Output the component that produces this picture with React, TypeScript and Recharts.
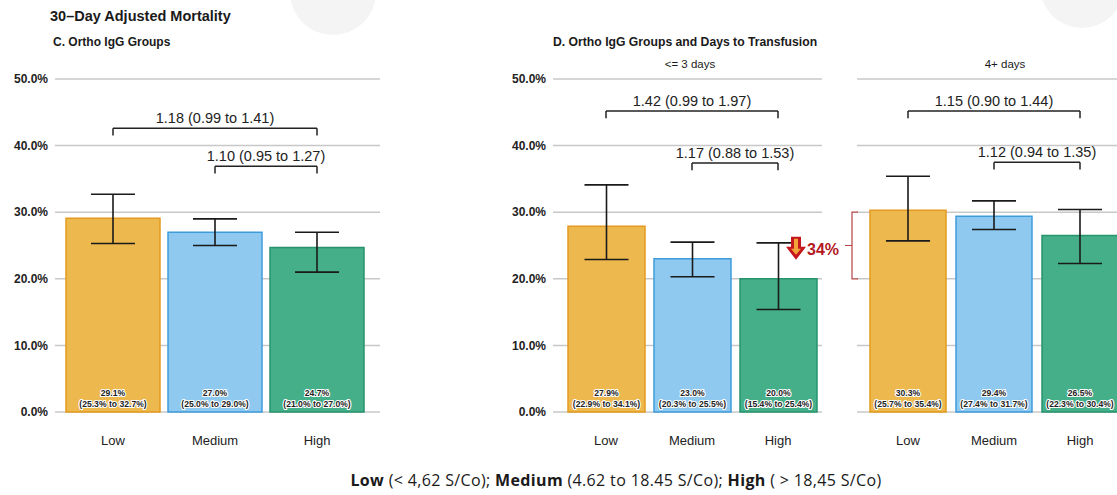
import React from "react"
import {
  Bar,
  BarChart,
  CartesianGrid,
  Cell,
  ErrorBar,
  LabelList,
  ReferenceDot,
  ReferenceLine,
  XAxis,
  YAxis,
} from "recharts"

// categories and tick values
const groups = ["Low", "Medium", "High"]
const yTicks = [0, 10, 20, 30, 40, 50]

// C. all patients
const overallRate = [29.1, 27.0, 24.7]
const overallLow = [25.3, 25.0, 21.0]
const overallHigh = [32.7, 29.0, 27.0]

// D. <= 3 days
const earlyRate = [27.9, 23.0, 20.0]
const earlyLow = [22.9, 20.3, 15.4]
const earlyHigh = [34.1, 25.5, 25.4]

// D. 4+ days
const lateRate = [30.3, 29.4, 26.5]
const lateLow = [25.7, 27.4, 22.3]
const lateHigh = [35.4, 31.7, 30.4]

// hazard ratio annotations: [Low vs High, Medium vs High]
const overallHR = ["1.18 (0.99 to 1.41)", "1.10 (0.95 to 1.27)"]
const earlyHR = ["1.42 (0.99 to 1.97)", "1.17 (0.88 to 1.53)"]
const lateHR = ["1.15 (0.90 to 1.44)", "1.12 (0.94 to 1.35)"]

const reductionLabel = "34%"

const FILLS = ["#EDB84E", "#8FC9EF", "#45AF89"]
const STROKES = ["#E49A1E", "#3F9CDC", "#27946C"]
const FONT = '"Liberation Sans", Arial, sans-serif'

const H = 495
const TOP = 79
const BOTTOM = 412
const yOf = (v: number) => TOP + ((50 - v) * (BOTTOM - TOP)) / 50

const makeRows = (rate: number[], lo: number[], hi: number[]) =>
  groups.map((g, i) => ({
    group: g,
    rate: rate[i],
    lo: lo[i],
    hi: hi[i],
    err: [+(rate[i] - lo[i]).toFixed(1), +(hi[i] - rate[i]).toFixed(1)],
  }))

const fmt = (v: number) => `${v.toFixed(1)}%`

const haloText = {
  stroke: "#fff",
  strokeWidth: 2.2,
  paintOrder: "stroke" as const,
  strokeLinejoin: "round" as const,
}

function barLabel(rows: any[]) {
  return (props: any) => {
    const { x, y, width, height, index } = props
    const r = rows[index]
    const cx = x + width / 2
    const base = y + height
    return (
      <g fontFamily={FONT} fontWeight="bold" fontSize={8.6} fill="#222" textAnchor="middle">
        <text x={cx} y={base - 16} {...haloText}>
          {fmt(r.rate)}
        </text>
        <text x={cx} y={base - 5} {...haloText}>
          ({fmt(r.lo)} to {fmt(r.hi)})
        </text>
      </g>
    )
  }
}

function bracket(from: string, to: string, level: number, text: string, key: string) {
  const drop = 1.1
  return [
    <ReferenceLine
      key={key + "h"}
      segment={[{ x: from, y: level }, { x: to, y: level }]}
      stroke="#222"
      strokeWidth={1.5}
      ifOverflow="visible"
      label={{ value: text, position: "top", fill: "#222", fontSize: 14.5, fontFamily: FONT, offset: 5 }}
    />,
    <ReferenceLine
      key={key + "l"}
      segment={[{ x: from, y: level }, { x: from, y: level - drop }]}
      stroke="#222"
      strokeWidth={1.5}
      ifOverflow="visible"
    />,
    <ReferenceLine
      key={key + "r"}
      segment={[{ x: to, y: level }, { x: to, y: level - drop }]}
      stroke="#222"
      strokeWidth={1.5}
      ifOverflow="visible"
    />,
  ]
}

interface PanelProps {
  rows: any[]
  left: number
  width: number
  yWidth: number
  showY: boolean
  pad: { left: number; right: number }
  barSize: number
  marginRight: number
  hr: string[]
  levels: [number, number]
  children?: React.ReactNode
}

function Panel({ rows, left, width, yWidth, showY, pad, barSize, marginRight, hr, levels, children }: PanelProps) {
  return (
    <div style={{ position: "absolute", left, top: 0 }}>
      <BarChart
        width={width}
        height={H}
        data={rows}
        margin={{ top: TOP, right: marginRight, bottom: H - BOTTOM - 30, left: 0 }}
      >
        <CartesianGrid vertical={false} stroke="#c8c8c8" strokeWidth={1.5} />
        <XAxis
          dataKey="group"
          height={30}
          axisLine={false}
          tickLine={false}
          tickSize={0}
          tickMargin={24}
          padding={pad}
          tick={{ fill: "#222", fontSize: 13, fontFamily: FONT }}
        />
        <YAxis
          domain={[0, 50]}
          ticks={yTicks}
          width={yWidth}
          hide={!showY}
          axisLine={false}
          tickLine={false}
          tickSize={0}
          tickMargin={7}
          tickFormatter={fmt}
          tick={{ fill: "#222", fontSize: 12, fontWeight: "bold", fontFamily: FONT }}
        />
        <Bar dataKey="rate" barSize={barSize} strokeWidth={1.5} isAnimationActive={false}>
          {rows.map((r, i) => (
            <Cell key={r.group} fill={FILLS[i]} stroke={STROKES[i]} />
          ))}
          <ErrorBar dataKey="err" width={22} stroke="#1a1a1a" strokeWidth={1.6} direction="y" />
          <LabelList dataKey="rate" content={barLabel(rows)} />
        </Bar>
        {bracket("Low", "High", levels[0], hr[0], "a")}
        {bracket("Medium", "High", levels[1], hr[1], "b")}
        {children}
      </BarChart>
    </div>
  )
}

const DownArrow = (props: any) => {
  const { cx, cy } = props
  const ax = cx + 18
  const top = cy - 6
  return (
    <g>
      <path
        d={`M${ax - 5},${top} L${ax + 5},${top} L${ax + 5},${top + 10} L${ax + 10},${top + 10} L${ax},${top + 23} L${ax - 10},${top + 10} L${ax - 5},${top + 10} Z`}
        fill="#C4161C"
      />
      <path
        d={`M${ax - 2},${top + 2} L${ax + 2},${top + 2} L${ax + 2},${top + 12} L${ax + 5},${top + 12} L${ax},${top + 18} L${ax - 5},${top + 12} L${ax - 2},${top + 12} Z`}
        fill="#F2A33A"
      />
      <text x={ax + 11} y={top + 18} fill="#B3191F" fontSize={16} fontWeight="bold" fontFamily={FONT}>
        {reductionLabel}
      </text>
    </g>
  )
}

export default function App() {
  const overall = makeRows(overallRate, overallLow, overallHigh)
  const early = makeRows(earlyRate, earlyLow, earlyHigh)
  const late = makeRows(lateRate, lateLow, lateHigh)

  const txt = (s: React.CSSProperties) => ({
    position: "absolute" as const,
    fontFamily: FONT,
    color: "#1a1a1a",
    whiteSpace: "nowrap" as const,
    ...s,
  })

  return (
    <div
      style={{
        position: "absolute",
        left: 0,
        top: 0,
        width: 1117,
        height: H,
        overflow: "hidden",
        background: "#fff",
      }}
    >
      <svg width={1117} height={H} style={{ position: "absolute", left: 0, top: 0 }}>
        <circle cx={333} cy={-8} r={43} fill="#f4f4f4" />
        <circle cx={1082} cy={-14} r={42} fill="#f4f4f4" />
      </svg>

      <div style={txt({ left: 50, top: 8, fontSize: 14.5, fontWeight: "bold" })}>30–Day Adjusted Mortality</div>
      <div style={txt({ left: 53, top: 35, fontSize: 12, fontWeight: "bold" })}>C. Ortho IgG Groups</div>
      <div style={txt({ left: 553, top: 35, fontSize: 12.2, fontWeight: "bold" })}>
        D. Ortho IgG Groups and Days to Transfusion
      </div>
      <div style={txt({ left: 690, top: 58, fontSize: 11.5, transform: "translateX(-50%)" })}>&lt;= 3 days</div>
      <div style={txt({ left: 1005, top: 58, fontSize: 11.5, transform: "translateX(-50%)" })}>4+ days</div>

      <Panel
        rows={overall}
        left={0}
        width={385}
        yWidth={55}
        showY
        pad={{ left: 7, right: 12 }}
        barSize={94}
        marginRight={5}
        hr={overallHR}
        levels={[42.6, 36.9]}
      />
      <Panel
        rows={early}
        left={497}
        width={350}
        yWidth={56}
        showY
        pad={{ left: 10, right: 1 }}
        barSize={77}
        marginRight={25}
        hr={earlyHR}
        levels={[45.2, 37.4]}
      >
        <ReferenceDot x="High" y={earlyHigh[2]} r={0} ifOverflow="visible" shape={DownArrow} />
      </Panel>
      <Panel
        rows={late}
        left={857}
        width={280}
        yWidth={0}
        showY={false}
        pad={{ left: 8, right: 0 }}
        barSize={76}
        marginRight={14}
        hr={lateHR}
        levels={[45.2, 37.5]}
      />

      <svg width={30} height={H} style={{ position: "absolute", left: 835, top: 0 }}>
        <path
          d={`M23,${yOf(30)} L17,${yOf(30)} L17,${yOf(20)} L23,${yOf(20)} M17,${yOf(25)} L10,${yOf(25)}`}
          stroke="#B54444"
          strokeWidth={1.2}
          fill="none"
        />
      </svg>

      <div
        style={txt({
          left: 616,
          top: 469,
          fontSize: 16,
          letterSpacing: 0.35,
          fontFamily: '"Open Sans", sans-serif',
          transform: "translateX(-50%)",
        })}
      >
        <b>Low</b> (&lt; 4,62 S/Co); <b>Medium</b> (4.62 to 18.45 S/Co); <b>High</b> ( &gt; 18,45 S/Co)
      </div>
    </div>
  )
}
